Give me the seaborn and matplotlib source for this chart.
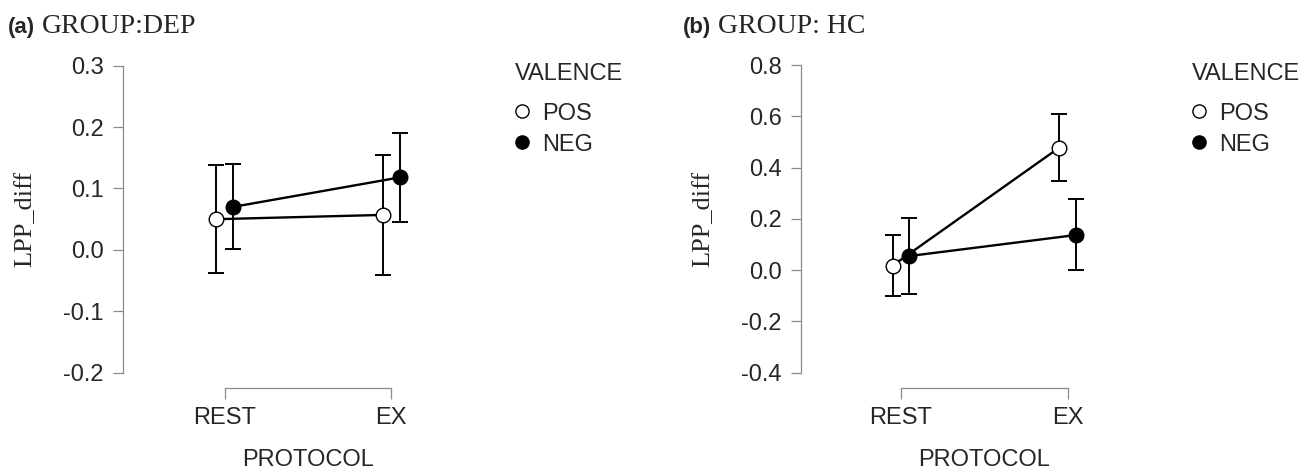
import matplotlib
matplotlib.use("Agg")
import matplotlib.pyplot as plt
from matplotlib.lines import Line2D
import numpy as np
import pandas as pd
import seaborn as sns

sns.set_style("ticks")
plt.rcParams["font.family"] = ["Liberation Sans", "DejaVu Sans"]
plt.rcParams["axes.unicode_minus"] = False

# ── Data ───────────────────────────────────────────────────────────────────
PROTOCOLS = ["REST", "EX"]
VALENCES = ["POS", "NEG"]

DEP_POS_MEAN = [0.050, 0.057]
DEP_POS_LO = [-0.038, -0.041]
DEP_POS_HI = [0.139, 0.155]
DEP_NEG_MEAN = [0.070, 0.118]
DEP_NEG_LO = [0.002, 0.046]
DEP_NEG_HI = [0.140, 0.190]

HC_POS_MEAN = [0.018, 0.478]
HC_POS_LO = [-0.101, 0.346]
HC_POS_HI = [0.137, 0.610]
HC_NEG_MEAN = [0.055, 0.137]
HC_NEG_LO = [-0.093, 0.000]
HC_NEG_HI = [0.202, 0.276]

DEP_TICKS = [-0.2, -0.1, 0.0, 0.1, 0.2, 0.3]
HC_TICKS = [-0.4, -0.2, 0.0, 0.2, 0.4, 0.6, 0.8]


def make_df(pos_m, pos_lo, pos_hi, neg_m, neg_lo, neg_hi):
    rows = []
    for val, m, lo, hi in (("POS", pos_m, pos_lo, pos_hi), ("NEG", neg_m, neg_lo, neg_hi)):
        for p, a, b, c in zip(PROTOCOLS, m, lo, hi):
            rows.append({"PROTOCOL": p, "VALENCE": val, "LPP_diff": a, "lo": b, "hi": c})
    return pd.DataFrame(rows)


dep = make_df(DEP_POS_MEAN, DEP_POS_LO, DEP_POS_HI, DEP_NEG_MEAN, DEP_NEG_LO, DEP_NEG_HI)
hc = make_df(HC_POS_MEAN, HC_POS_LO, HC_POS_HI, HC_NEG_MEAN, HC_NEG_LO, HC_NEG_HI)

W, H = 1305, 475
fig = plt.figure(figsize=(W / 100, H / 100), dpi=100)
GRAY = "#8c8c8c"
FACES = {"POS": "white", "NEG": "black"}


def panel(rect, df, ticks, xlim):
    ax = fig.add_axes(rect)
    sns.pointplot(data=df, x="PROTOCOL", y="LPP_diff", hue="VALENCE",
                  order=PROTOCOLS, hue_order=VALENCES, palette=["black", "black"],
                  markers="o", dodge=0.1, errorbar=None, legend=False,
                  linewidth=1.7, markersize=10.5, ax=ax)
    # error bars at the dodged positions seaborn used
    for line, val in zip(ax.lines[:2], VALENCES):
        sub = df[df["VALENCE"] == val].set_index("PROTOCOL").loc[PROTOCOLS]
        xs = np.asarray(line.get_xdata(), dtype=float)
        ys = sub["LPP_diff"].to_numpy()
        yerr = [ys - sub["lo"].to_numpy(), sub["hi"].to_numpy() - ys]
        ax.errorbar(xs, ys, yerr=yerr, fmt="none", ecolor="black",
                    elinewidth=1.4, capsize=6, capthick=1.4, zorder=2)
        line.set_markerfacecolor(FACES[val])
        line.set_markeredgecolor("black")
        line.set_markeredgewidth(1.0)
        line.set_zorder(3)

    ax.set_xlim(*xlim)
    ax.set_ylim(ticks[0], ticks[-1])
    ax.set_yticks(ticks)
    ax.set_yticklabels([f"{t:.1f}" for t in ticks])
    for s in ("top", "right"):
        ax.spines[s].set_visible(False)
    for s in ("left", "bottom"):
        ax.spines[s].set_color(GRAY)
        ax.spines[s].set_linewidth(0.9)
    ax.spines["bottom"].set_position(("outward", 11))
    ax.spines["bottom"].set_bounds(0, 1)
    ax.tick_params(axis="x", length=8, width=0.9, color=GRAY, labelsize=17, pad=6)
    ax.tick_params(axis="y", length=7.2, width=0.9, color=GRAY, labelsize=17, pad=6.5)

    ax.set_xlabel("PROTOCOL", fontsize=17)
    ax.set_ylabel("LPP_diff", fontsize=19, family=["Liberation Serif", "DejaVu Serif"])
    wpx = rect[2] * W
    hpx = rect[3] * H
    ax.xaxis.set_label_coords((0.5 - xlim[0]) / (xlim[1] - xlim[0]), -(449 - 372.7) / hpx)
    ax.yaxis.set_label_coords(-87 / wpx, 0.5)
    return ax


ax_a = panel([123 / W, (H - 372.7) / H, 351.5 / W, 307 / H], dep, DEP_TICKS, (-0.61, 1.5))
ax_b = panel([801 / W, (H - 372.7) / H, 350 / W, 307.7 / H], hc, HC_TICKS, (-0.6, 1.5))

# ── Legends ───────────────────────────────────────────────────────────────
handles = [Line2D([], [], marker="o", ls="none", mfc=FACES[v], mec="black",
                  mew=1.0, ms=9.5) for v in VALENCES]
for ax, lx in ((ax_a, 515), (ax_b, 1192)):
    fig.text(lx / W, (H - 80) / H, "VALENCE", fontsize=17, va="baseline", ha="left")
    ax.legend(handles, VALENCES, loc="upper left", bbox_to_anchor=(lx / W, (H - 102.5) / H),
              bbox_transform=fig.transFigure, frameon=False, fontsize=17,
              borderpad=0, borderaxespad=0, handlelength=0.6, handletextpad=0.55,
              labelspacing=0.39)

# ── Panel titles ──────────────────────────────────────────────────────────
renderer = fig.canvas.get_renderer()
for x0, tag, name in ((8, "(a)", "GROUP:DEP"), (683, "(b)", "GROUP: HC")):
    t = fig.text(x0 / W, (H - 33) / H, tag, fontsize=16, fontweight="bold",
                 va="baseline", ha="left")
    ext = t.get_window_extent(renderer)
    fig.text((ext.x1 + 7) / W, (H - 33) / H, name, fontsize=20, va="baseline", ha="left",
             family=["Liberation Serif", "DejaVu Serif"])

fig.savefig("out.png", dpi=100)
